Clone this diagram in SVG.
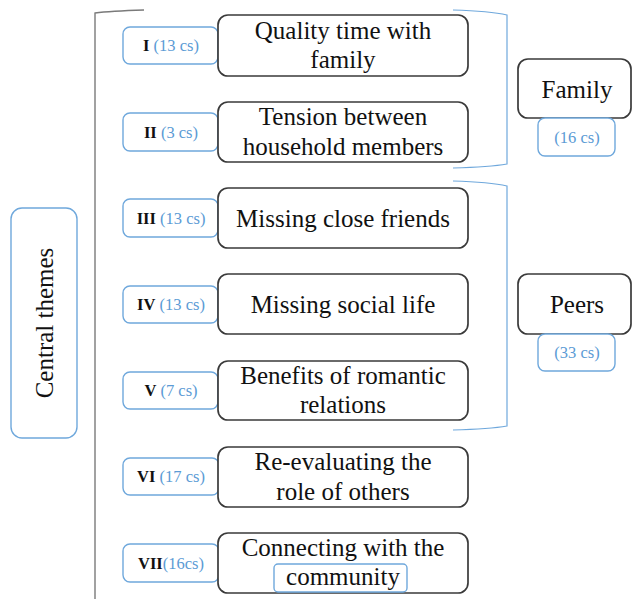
<svg xmlns="http://www.w3.org/2000/svg" width="632" height="599" viewBox="0 0 632 599" font-family="'Liberation Serif', serif">
<style>
text{font-family:'Liberation Serif', 'Times New Roman', serif}
.theme{fill:#fff;stroke:#3a3a3a;stroke-width:1.7}
.lbl{fill:#fff;stroke:#6fa8dc;stroke-width:1.4}
.t{font-size:25px;fill:#111;text-anchor:middle}
.s{font-size:16.5px;fill:#111;text-anchor:middle}
.b{font-weight:bold}
.bl{fill:#5b9bd5}
.brace{fill:none;stroke:#6fa8dc;stroke-width:1.2}
</style>
<rect width="632" height="599" fill="#fff"/>
<g id="connectors">
<path d="M144,10 Q110,11 95,13 L95,599" fill="none" stroke="#7a7a7a" stroke-width="1.4"/>
<path class="brace" d="M453,10 Q490,11 507,15 L507,164 Q490,167 453,168"/>
<path class="brace" d="M453,181 Q490,182 507,186 L507,426 Q490,429 453,430"/>
</g>
<g id="central">
<rect x="11" y="208" width="66" height="230" rx="11" class="lbl"/>
<text class="t" transform="translate(53,323) rotate(-90)">Central themes</text>
</g>
<g id="family">
<rect x="518" y="59" width="113" height="59" rx="10" class="theme"/>
<text class="t" x="577" y="98">Family</text>
<rect x="538" y="118" width="77" height="38" rx="7" class="lbl"/>
<text class="s bl" x="577" y="143">(16 cs)</text>
</g>
<g id="peers">
<rect x="518" y="274" width="113" height="60" rx="10" class="theme"/>
<text class="t" x="577" y="313">Peers</text>
<rect x="538" y="334" width="77" height="37" rx="7" class="lbl"/>
<text class="s bl" x="577" y="358">(33 cs)</text>
</g>
<g id="theme1">
<rect x="123" y="27" width="95" height="37" rx="7" class="lbl"/>
<text class="s" x="171" y="51"><tspan class="b">I</tspan><tspan class="bl"> (13 cs)</tspan></text>
<rect x="218" y="15" width="250" height="61" rx="10" class="theme"/>
<text class="t" x="343" y="39">Quality time with</text>
<text class="t" x="343" y="68">family</text>
</g>
<g id="theme2">
<rect x="123" y="113" width="95" height="38" rx="7" class="lbl"/>
<text class="s" x="171" y="138"><tspan class="b">II</tspan><tspan class="bl"> (3 cs)</tspan></text>
<rect x="218" y="102" width="250" height="60" rx="10" class="theme"/>
<text class="t" x="343" y="125">Tension between</text>
<text class="t" x="343" y="155">household members</text>
</g>
<g id="theme3">
<rect x="123" y="199" width="95" height="38" rx="7" class="lbl"/>
<text class="s" x="171" y="224"><tspan class="b">III</tspan><tspan class="bl"> (13 cs)</tspan></text>
<rect x="218" y="188" width="250" height="60" rx="10" class="theme"/>
<text class="t" x="343" y="227">Missing close friends</text>
</g>
<g id="theme4">
<rect x="123" y="286" width="95" height="37" rx="7" class="lbl"/>
<text class="s" x="171" y="310"><tspan class="b">IV</tspan><tspan class="bl"> (13 cs)</tspan></text>
<rect x="218" y="274" width="250" height="60" rx="10" class="theme"/>
<text class="t" x="343" y="313">Missing social life</text>
</g>
<g id="theme5">
<rect x="123" y="372" width="95" height="37" rx="7" class="lbl"/>
<text class="s" x="171" y="396"><tspan class="b">V</tspan><tspan class="bl"> (7 cs)</tspan></text>
<rect x="218" y="361" width="250" height="59" rx="10" class="theme"/>
<text class="t" x="343" y="384">Benefits of romantic</text>
<text class="t" x="343" y="413">relations</text>
</g>
<g id="theme6">
<rect x="123" y="458" width="96" height="37" rx="7" class="lbl"/>
<text class="s" x="171" y="482"><tspan class="b">VI</tspan><tspan class="bl"> (17 cs)</tspan></text>
<rect x="218" y="447" width="250" height="60" rx="10" class="theme"/>
<text class="t" x="343" y="470">Re-evaluating the</text>
<text class="t" x="343" y="500">role of others</text>
</g>
<g id="theme7">
<rect x="123" y="544" width="96" height="38" rx="7" class="lbl"/>
<text class="s" x="171" y="569"><tspan class="b">VII</tspan><tspan class="bl">(16cs)</tspan></text>
<rect x="218" y="533" width="250" height="60" rx="10" class="theme"/>
<rect x="274" y="564" width="133" height="28" rx="4" class="lbl"/>
<text class="t" x="343" y="556">Connecting with the</text>
<text class="t" x="343" y="585">community</text>
</g>
</svg>
